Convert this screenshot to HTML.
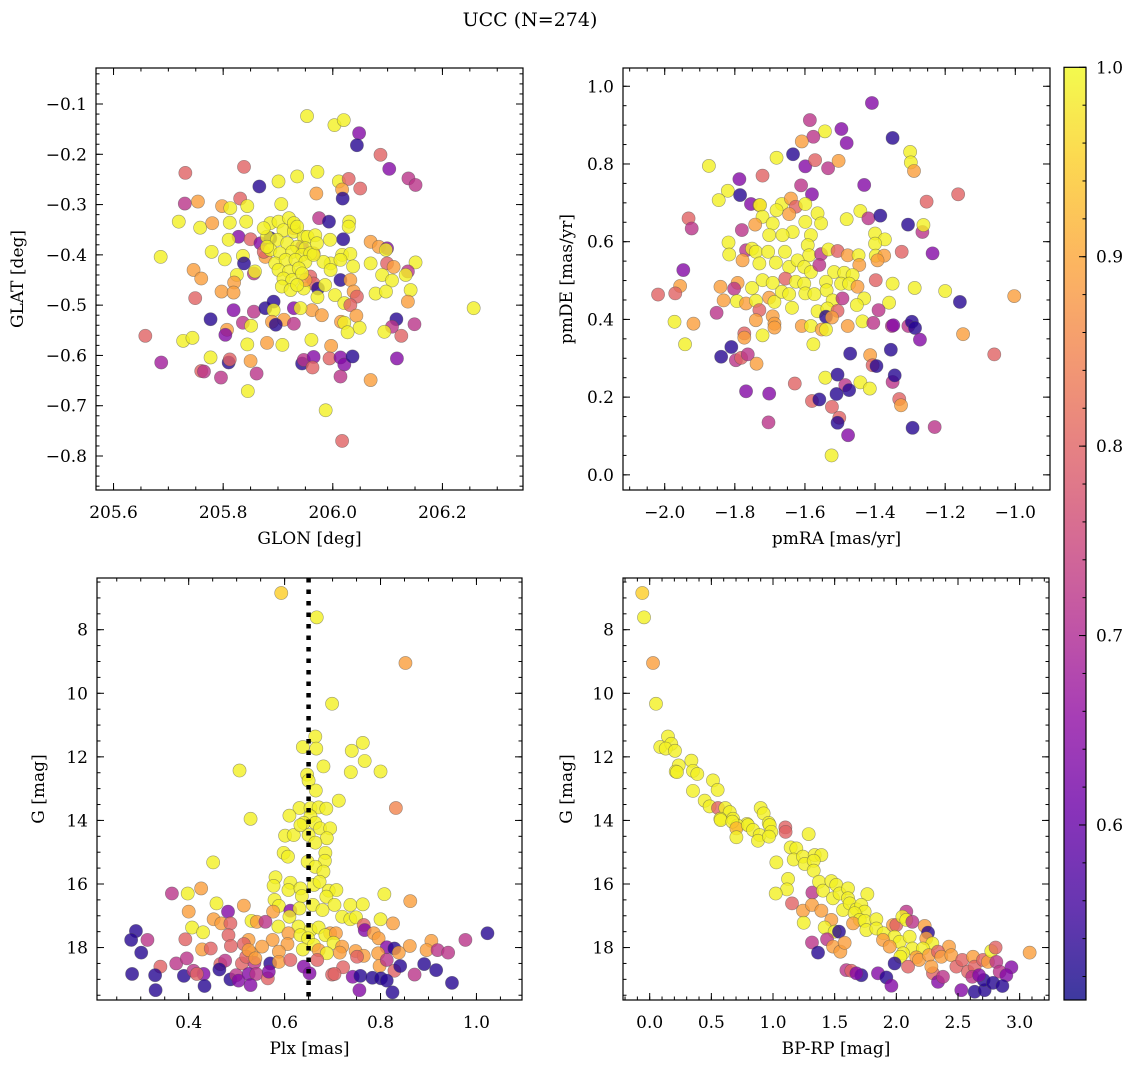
<!DOCTYPE html>
<html><head><meta charset="utf-8"><title>UCC (N=274)</title>
<style>
html,body{margin:0;padding:0;background:#fff;}
svg{display:block;font-family:"DejaVu Serif","Liberation Serif",serif;}
</style></head>
<body>
<svg id="fig" width="1136" height="1067" viewBox="0 0 1136 1067" xmlns="http://www.w3.org/2000/svg">
<rect x="0" y="0" width="1136" height="1067" fill="#fff"/>
<text x="530" y="26" font-size="19" text-anchor="middle">UCC (N=274)</text>
</svg>
<script>
// ---------- Panel 1: GLON / GLAT ----------
const p1Lon = [205.953,206.003,206.020,206.048,206.044,206.087,206.103,206.138,206.151,205.731,
205.838,205.866,205.901,205.935,205.972,206.011,206.029,206.050,206.017,205.970,
206.018,205.730,205.754,205.831,205.798,205.813,205.844,205.906,205.719,205.758,
205.780,205.812,205.842,205.828,205.810,205.850,205.868,205.975,205.993,206.030,
206.029,206.019,205.995,206.069,206.084,206.099,206.097,205.686,205.779,205.803,
205.836,205.838,205.877,205.746,205.760,205.825,205.856,205.858,205.820,205.797,
205.819,205.749,206.069,206.099,206.111,206.151,206.137,206.133,206.090,206.108,
206.142,206.078,206.097,206.137,206.257,205.996,206.017,206.032,206.037,206.014,
206.032,206.038,206.044,206.004,206.021,206.032,205.959,205.965,205.973,205.947,
205.972,205.986,205.962,205.980,205.777,205.819,205.856,205.877,205.892,205.892,
205.929,205.941,205.889,205.911,205.896,205.929,205.658,205.727,205.744,205.807,
205.804,205.836,205.851,205.844,205.880,205.908,205.961,205.997,206.015,206.021,
206.043,206.049,206.027,206.116,206.108,206.094,206.125,206.149,205.687,205.777,
205.810,205.812,205.760,205.765,205.796,205.850,205.861,205.845,205.944,205.947,
205.965,205.963,205.994,206.014,206.021,206.036,206.014,206.069,206.117,205.987,
206.017,205.929,205.874,205.944,205.965,205.886,205.950,
205.886,205.901,205.920,205.910,205.929,205.947,205.954,205.968,205.880,205.898,
205.917,205.935,205.950,205.886,205.904,205.926,205.944,205.959,205.895,205.914,
205.932,205.950,205.901,205.920,205.938,205.910,205.926,205.944,205.907,205.923,
205.935,205.983,205.996,206.014,205.965,205.880,205.929,205.874,205.935,205.971];
const p1Lat = [-0.124,-0.142,-0.132,-0.158,-0.182,-0.201,-0.229,-0.248,-0.261,-0.237,
-0.225,-0.264,-0.254,-0.244,-0.235,-0.254,-0.249,-0.268,-0.270,-0.278,
-0.288,-0.298,-0.294,-0.288,-0.303,-0.307,-0.303,-0.299,-0.334,-0.346,
-0.337,-0.336,-0.334,-0.364,-0.370,-0.369,-0.377,-0.327,-0.334,-0.334,
-0.344,-0.369,-0.370,-0.374,-0.384,-0.387,-0.390,-0.404,-0.394,-0.409,
-0.402,-0.417,-0.404,-0.430,-0.447,-0.440,-0.437,-0.433,-0.455,-0.473,
-0.475,-0.486,-0.417,-0.417,-0.424,-0.415,-0.433,-0.440,-0.440,-0.451,
-0.470,-0.477,-0.473,-0.493,-0.506,-0.417,-0.400,-0.398,-0.423,-0.450,
-0.450,-0.473,-0.483,-0.480,-0.496,-0.500,-0.443,-0.457,-0.467,-0.467,
-0.484,-0.460,-0.510,-0.520,-0.528,-0.510,-0.513,-0.506,-0.493,-0.510,
-0.506,-0.506,-0.533,-0.529,-0.539,-0.537,-0.561,-0.571,-0.565,-0.549,
-0.559,-0.535,-0.541,-0.578,-0.575,-0.579,-0.569,-0.581,-0.533,-0.535,
-0.521,-0.545,-0.554,-0.528,-0.543,-0.553,-0.561,-0.538,-0.614,-0.604,
-0.614,-0.608,-0.631,-0.632,-0.644,-0.611,-0.636,-0.671,-0.616,-0.609,
-0.603,-0.624,-0.606,-0.604,-0.618,-0.602,-0.642,-0.649,-0.606,-0.709,
-0.770,-0.347,-0.394,-0.384,-0.397,-0.367,-0.450,
-0.337,-0.334,-0.327,-0.351,-0.354,-0.364,-0.364,-0.361,-0.364,-0.370,
-0.377,-0.384,-0.387,-0.390,-0.397,-0.394,-0.400,-0.397,-0.417,-0.410,
-0.410,-0.414,-0.430,-0.433,-0.427,-0.447,-0.450,-0.437,-0.463,-0.470,
-0.460,-0.414,-0.430,-0.410,-0.400,-0.384,-0.337,-0.347,-0.344,-0.377];
const p1Val = [.99,.99,.99,.64,.53,.80,.64,.72,.72,.80,
.80,.53,.99,.99,.99,.99,.80,.80,.89,.89,
.53,.72,.89,.80,.89,.99,.99,.99,.99,.99,
.89,.99,.99,.64,.99,.80,.64,.72,.53,.99,
.99,.53,.99,.89,.89,.64,.99,.99,.99,.99,
.99,.53,.89,.89,.89,.99,.72,.99,.89,.89,
.89,.80,.99,.80,.89,.99,.72,.99,.99,.99,
.99,.99,.99,.89,.99,.99,.99,.99,.99,.53,
.89,.89,.80,.99,.99,.80,.80,.80,.53,.99,
.99,.99,.89,.89,.53,.64,.72,.53,.53,.99,
.64,.99,.89,.89,.53,.72,.80,.99,.99,.89,
.64,.72,.99,.99,.89,.99,.99,.89,.89,.99,
.89,.99,.99,.53,.72,.99,.80,.72,.68,.99,
.53,.80,.80,.72,.72,.89,.72,.99,.53,.72,
.64,.80,.80,.64,.64,.53,.72,.89,.64,.99,
.80,.89,.80,.64,.89,.53,.89,
.99,.99,.99,.99,.99,.99,.99,.99,.99,.99,
.99,.99,.99,.99,.99,.99,.99,.99,.99,.99,
.99,.99,.99,.99,.99,.99,.99,.99,.99,.99,
.99,.99,.99,.99,.99,.99,.99,.99,.99,.99];

// ---------- Panel 2: pmRA / pmDE ----------
const p2PmRA = [-1.409,-1.586,-1.543,-1.496,-1.576,-1.609,-1.481,-1.350,-1.300,-1.298,
-1.289,-1.681,-1.634,-1.599,-1.571,-1.534,-1.504,-1.874,-1.787,-1.721,
-1.611,-1.431,-1.163,-1.253,-1.820,-1.846,-1.785,-1.754,-1.580,-1.730,
-1.728,-1.666,-1.640,-1.626,-1.599,-1.681,-1.645,-1.564,-1.721,-1.932,
-1.923,-1.481,-1.442,-1.419,-1.385,-1.306,-1.265,-1.262,-1.780,-1.742,
-1.692,-1.635,-1.599,-1.554,-1.702,-1.664,-1.583,-1.400,-1.372,-1.400,
-1.818,-1.816,-1.768,-1.751,-1.740,-1.778,-1.730,-1.705,-1.657,-1.592,
-1.588,-1.554,-1.533,-1.507,-1.478,-1.447,-1.445,-1.398,-1.374,-1.393,
-1.324,-1.236,-1.683,-1.645,-1.621,-1.602,-1.583,-1.559,-1.517,-1.488,
-1.464,-1.947,-1.956,-1.970,-2.019,-1.841,-1.792,-1.802,-1.751,-1.721,
-1.692,-1.656,-1.626,-1.602,-1.540,-1.497,-1.474,-1.450,-1.398,-1.350,
-1.287,-1.200,-1.003,-1.158,-1.832,-1.794,-1.768,-1.740,-1.702,-1.687,
-1.666,-1.645,-1.599,-1.573,-1.538,-1.521,-1.493,-1.431,-1.452,-1.360,
-1.637,-1.564,-1.536,-1.507,-1.540,-1.523,-1.390,-1.730,-1.852,-1.972,
-1.918,-1.740,-1.692,-1.687,-1.687,-1.609,-1.583,-1.552,-1.540,-1.478,
-1.436,-1.405,-1.352,-1.348,-1.305,-1.295,-1.286,-1.272,-1.149,-1.773,
-1.773,-1.721,-1.942,-1.576,-1.810,-1.839,-1.797,-1.782,-1.763,-1.738,
-1.471,-1.355,-1.414,-1.407,-1.396,-1.060,-1.542,-1.507,-1.629,-1.485,
-1.474,-1.442,-1.415,-1.350,-1.344,-1.768,-1.702,-1.580,-1.559,-1.510,
-1.523,-1.331,-1.326,-1.502,-1.507,-1.704,-1.477,-1.293,-1.230,-1.524];
const p2PmDE = [0.957,0.913,0.884,0.890,0.870,0.858,0.854,0.867,0.831,0.804,
0.782,0.816,0.825,0.794,0.810,0.789,0.808,0.795,0.761,0.770,
0.745,0.746,0.722,0.703,0.731,0.707,0.720,0.697,0.722,0.694,
0.694,0.697,0.711,0.690,0.697,0.681,0.671,0.673,0.664,0.660,
0.634,0.658,0.679,0.660,0.667,0.644,0.625,0.643,0.630,0.644,
0.647,0.625,0.651,0.647,0.617,0.617,0.617,0.621,0.606,0.595,
0.598,0.567,0.578,0.582,0.574,0.552,0.544,0.574,0.574,0.591,
0.565,0.568,0.580,0.576,0.565,0.565,0.540,0.564,0.564,0.552,
0.574,0.570,0.546,0.535,0.552,0.535,0.522,0.540,0.522,0.520,
0.514,0.527,0.486,0.467,0.464,0.484,0.494,0.479,0.481,0.501,
0.494,0.505,0.497,0.492,0.497,0.492,0.492,0.484,0.501,0.492,
0.481,0.473,0.460,0.445,0.449,0.447,0.441,0.448,0.456,0.445,
0.471,0.465,0.467,0.465,0.475,0.449,0.454,0.454,0.437,0.443,
0.430,0.421,0.428,0.422,0.407,0.405,0.424,0.424,0.417,0.394,
0.389,0.398,0.408,0.389,0.379,0.383,0.383,0.374,0.374,0.383,
0.395,0.391,0.383,0.385,0.383,0.394,0.378,0.348,0.362,0.364,
0.353,0.359,0.336,0.336,0.329,0.304,0.295,0.301,0.310,0.286,
0.312,0.322,0.308,0.282,0.280,0.310,0.250,0.258,0.235,0.231,
0.218,0.238,0.222,0.239,0.256,0.215,0.209,0.190,0.194,0.208,
0.175,0.195,0.179,0.147,0.134,0.135,0.102,0.121,0.123,0.050];
const p2Val = [.64,.72,.99,.64,.72,.89,.64,.53,.99,.99,
.89,.99,.53,.64,.80,.72,.89,.99,.64,.80,
.72,.64,.80,.80,.99,.99,.53,.64,.64,.89,
.99,.99,.89,.80,.99,.99,.89,.99,.99,.80,
.72,.99,.99,.72,.53,.53,.72,.99,.72,.89,
.99,.99,.99,.99,.99,.99,.99,.99,.99,.99,
.99,.99,.72,.99,.99,.89,.99,.99,.99,.99,
.99,.72,.99,.80,.89,.99,.89,.99,.89,.89,
.80,.64,.99,.99,.99,.99,.99,.72,.99,.99,
.99,.64,.89,.80,.80,.89,.89,.72,.99,.99,
.99,.80,.99,.99,.99,.99,.99,.89,.80,.99,
.99,.99,.89,.53,.89,.99,.89,.99,.89,.99,
.99,.99,.99,.99,.99,.99,.72,.99,.99,.99,
.99,.99,.99,.80,.53,.89,.72,.80,.72,.99,
.89,.89,.89,.89,.89,.89,.99,.89,.99,.89,
.99,.72,.72,.64,.72,.53,.53,.64,.89,.80,
.89,.99,.99,.99,.53,.53,.72,.80,.72,.89,
.53,.53,.89,.80,.53,.80,.99,.53,.80,.72,
.53,.99,.99,.72,.53,.64,.64,.80,.53,.53,
.80,.80,.89,.80,.53,.72,.64,.53,.72,.99];

// ---------- Panel 3: Plx / G ----------
const p3Plx = [0.593,0.667,0.852,0.699,0.664,0.638,0.666,0.763,0.740,0.767,
0.681,0.506,0.738,0.800,0.647,0.650,0.665,0.713,0.832,0.631,
0.654,0.671,0.687,0.610,0.529,0.654,0.640,0.664,
0.650,0.601,0.619,0.633,0.674,0.695,0.688,0.664,0.598,0.607,
0.685,0.684,0.648,0.451,0.664,0.681,0.581,0.577,0.612,0.608,
0.633,0.636,0.661,0.673,0.692,0.708,0.687,0.704,0.808,0.862,
0.365,0.398,0.426,0.458,0.515,0.579,0.588,0.576,0.612,0.631,
0.659,0.679,0.737,0.763,0.610,0.720,0.737,0.749,0.800,0.400,
0.482,0.452,0.468,0.487,0.531,0.542,0.560,0.587,0.629,0.654,
0.671,0.695,0.765,0.767,0.826,0.407,0.430,0.483,0.608,0.633,
0.649,0.685,0.707,0.786,0.796,0.290,0.280,0.314,0.393,0.488,
0.525,0.575,0.606,0.638,0.661,0.702,0.720,0.977,1.023,0.906,
0.861,0.813,0.829,0.301,0.428,0.446,0.515,0.531,0.553,0.588,
0.671,0.688,0.715,0.748,0.765,0.795,0.838,0.896,0.919,0.941,
0.341,0.374,0.396,0.466,0.476,0.511,0.537,0.570,0.588,0.612,
0.640,0.668,0.722,0.751,0.798,0.813,0.829,0.841,0.891,0.916,
0.282,0.330,0.390,0.410,0.431,0.417,0.464,0.487,0.499,0.504,
0.525,0.541,0.565,0.567,0.652,0.699,0.704,0.742,0.758,0.783,
0.801,0.813,0.871,0.331,0.433,0.529,0.756,0.825,0.949,0.520,
0.525,0.539];
const p3G = [6.845,7.611,9.048,10.33,11.36,11.69,11.74,11.56,11.81,12.13,
12.30,12.43,12.48,12.46,12.56,12.75,13.06,13.38,13.61,13.61,
13.61,13.59,13.63,13.85,13.95,13.87,14.08,14.08,
14.46,14.48,14.46,14.15,14.25,14.25,14.56,14.70,15.02,15.14,
15.02,15.27,15.30,15.32,15.46,15.61,15.79,16.06,15.96,16.19,
16.14,16.38,16.03,15.93,16.21,16.19,16.40,16.66,16.32,16.54,
16.30,16.30,16.14,16.61,16.68,16.50,16.69,16.87,16.84,16.77,
16.66,16.82,16.66,16.64,17.03,17.03,17.11,17.05,17.11,16.87,
16.87,17.11,17.24,17.24,17.16,17.19,17.19,17.34,17.34,17.45,
17.37,17.55,17.29,17.45,17.24,17.37,17.52,17.61,17.55,17.61,
17.71,17.61,17.55,17.55,17.71,17.48,17.76,17.76,17.74,17.95,
17.76,17.76,17.89,18.06,17.92,17.85,17.97,17.76,17.55,17.79,
17.95,17.99,18.03,18.16,18.06,18.03,17.89,18.18,17.97,18.13,
18.08,18.18,18.16,18.11,18.26,18.18,18.16,18.08,18.08,18.16,
18.60,18.50,18.34,18.52,18.41,18.50,18.48,18.50,18.45,18.39,
18.60,18.39,18.62,18.29,18.58,18.39,18.73,18.58,18.52,18.71,
18.83,18.87,18.89,18.73,18.83,18.83,18.69,19.00,18.87,19.04,
18.83,18.83,18.97,18.76,18.81,18.85,18.83,18.92,18.89,18.95,
18.97,19.04,18.85,19.34,19.21,19.18,19.34,19.41,19.11,18.29,
18.08,18.34];
const p3Val = [.95,.99,.89,.99,.99,.99,.99,.99,.99,.99,
.99,.99,.99,.99,.99,.99,.99,.99,.85,.99,
.99,.99,.99,.99,.99,.99,.99,.99,
.99,.99,.99,.99,.99,.99,.99,.99,.99,.99,
.99,.99,.99,.99,.99,.99,.99,.99,.99,.99,
.99,.99,.99,.99,.99,.99,.99,.99,.99,.89,
.72,.99,.89,.99,.89,.99,.99,.89,.64,.99,
.99,.99,.99,.99,.99,.99,.99,.99,.99,.89,
.64,.89,.89,.80,.99,.89,.72,.99,.99,.99,
.99,.89,.80,.64,.89,.99,.99,.80,.89,.99,
.99,.99,.89,.89,.89,.53,.53,.72,.80,.80,
.89,.89,.89,.99,.99,.99,.89,.72,.53,.89,
.89,.64,.53,.53,.89,.80,.80,.89,.89,.89,
.89,.99,.89,.89,.89,.89,.89,.89,.72,.72,
.80,.72,.72,.80,.72,.80,.72,.53,.89,.80,
.64,.80,.80,.80,.89,.72,.80,.53,.53,.53,
.53,.53,.53,.72,.64,.80,.53,.53,.72,.64,
.64,.72,.80,.64,.64,.80,.80,.64,.53,.53,
.53,.53,.72,.53,.53,.64,.64,.53,.53,.80,
.89,.89];

// ---------- Panel 4: BP-RP / G ----------
const p4BpRp = [-0.060,-0.046,0.027,0.051,0.148,0.086,0.175,0.130,0.205,0.338,
0.235,0.211,0.221,0.351,0.386,0.513,0.551,0.351,0.446,0.486,
0.554,0.613,0.649,0.573,0.676,0.900,0.924,0.965,0.789,1.100,
0.711,
0.576,0.670,0.703,0.703,0.797,0.838,0.892,0.878,0.973,0.986,
0.967,1.102,1.289,1.143,1.189,1.168,1.243,1.257,1.338,1.392,
1.330,1.330,1.027,1.122,1.113,1.022,1.154,1.319,1.373,1.405,
1.473,1.513,1.486,1.540,1.608,1.608,1.765,1.243,1.316,1.392,
1.249,1.473,1.419,1.500,1.535,1.568,1.622,1.676,1.716,1.743,
1.662,1.703,1.649,1.743,1.838,1.757,1.838,1.897,1.973,2.000,
1.986,2.027,1.892,1.946,2.081,2.049,2.081,2.130,2.108,2.130,
2.230,2.257,2.243,2.292,2.216,2.162,2.054,2.033,1.986,2.095,
2.184,2.265,2.427,2.338,2.365,2.446,2.297,2.338,2.378,2.487,
2.535,2.622,2.581,2.635,2.616,2.703,2.743,2.770,2.805,2.811,
2.838,2.933,2.892,3.081,2.527,2.635,2.716,2.708,2.784,2.860,
2.671,1.438,1.487,1.546,1.581,1.316,1.365,1.595,1.635,1.716,
1.676,1.851,1.919,1.960,2.284];
const p4G = [6.845,7.611,9.048,10.33,11.36,11.69,11.59,11.74,11.81,12.12,
12.27,12.46,12.48,12.44,12.54,12.74,13.04,13.07,13.38,13.56,
13.61,13.61,13.74,13.95,13.95,13.61,13.78,14.08,14.11,14.22,
14.16,
13.99,14.04,14.25,14.53,14.15,14.30,14.46,14.64,14.15,14.36,
14.51,14.36,14.43,14.85,14.88,15.23,15.14,15.37,15.09,15.09,
15.27,15.58,15.32,15.84,16.17,16.30,16.61,16.27,15.93,16.21,
15.91,16.03,16.45,16.30,16.14,16.45,16.32,16.84,16.66,16.84,
17.22,17.13,17.37,17.50,17.50,16.82,16.61,16.80,16.66,16.87,
16.92,17.13,17.24,17.16,17.11,17.45,17.40,17.55,17.29,17.29,
17.66,17.82,17.76,17.97,16.87,17.03,17.13,17.19,17.66,18.03,
17.32,17.53,17.71,17.87,18.03,18.31,18.18,18.29,18.50,18.60,
18.39,18.24,17.97,18.13,18.29,18.24,18.81,19.08,18.92,18.60,
18.39,18.29,18.76,18.60,18.92,18.39,18.45,18.11,18.00,18.45,
18.76,18.62,18.87,18.16,19.34,19.39,19.34,19.02,19.11,19.21,
18.87,17.74,17.97,18.13,17.85,17.84,18.16,18.71,18.73,18.87,
18.81,18.81,18.94,19.20,18.60];
const p4Val = [.95,.99,.89,.99,.99,.99,.99,.99,.99,.99,
.99,.99,.99,.99,.99,.99,.99,.99,.99,.99,
.80,.99,.99,.99,.99,.99,.99,.99,.99,.80,
.99,
.99,.99,.92,.99,.99,.99,.99,.99,.99,.99,
.99,.80,.99,.99,.99,.99,.99,.99,.99,.99,
.99,.99,.99,.99,.99,.99,.80,.72,.99,.99,
.99,.99,.99,.99,.99,.99,.99,.89,.89,.89,
.99,.89,.99,.99,.53,.99,.99,.99,.99,.99,
.99,.99,.89,.99,.99,.99,.99,.99,.89,.80,
.99,.99,.89,.89,.72,.99,.99,.72,.99,.99,
.89,.53,.89,.99,.99,.89,.99,.99,.53,.80,
.89,.89,.89,.80,.89,.89,.80,.64,.72,.80,
.80,.89,.80,.80,.72,.80,.89,.99,.80,.72,
.72,.64,.64,.89,.64,.53,.53,.53,.53,.53,
.64,.72,.89,.89,.89,.72,.53,.72,.80,.53,
.64,.64,.53,.64,.89];

// ---------- Colorbar ----------
const cbTicks = [0.6,0.7,0.8,0.9,1.0];
const cbRange = [0.5076, 1.0];

const SVGNS = "http://www.w3.org/2000/svg";
const svg = document.getElementById('fig');
const plasmaStops = ["#0d0887","#41049d","#6a00a8","#8f0da4","#b12a90","#cc4778","#e16462","#f2844b","#fca636","#fcce25","#f0f921"];
function hex(h){return [parseInt(h.slice(1,3),16),parseInt(h.slice(3,5),16),parseInt(h.slice(5,7),16)];}
function plasma(t){
  t=Math.max(0,Math.min(1,t));
  const f=t*10, i=Math.min(9,Math.floor(f)), r=f-i;
  const a=hex(plasmaStops[i]), b=hex(plasmaStops[i+1]);
  return 'rgb('+a.map((v,k)=>Math.round(v+(b[k]-v)*r)).join(',')+')';
}
function colorOf(v){return plasma((v-cbRange[0])/(cbRange[1]-cbRange[0]));}
function el(tag, attrs, parent){
  const e=document.createElementNS(SVGNS,tag);
  for(const k in attrs) e.setAttribute(k,attrs[k]);
  (parent||svg).appendChild(e);
  return e;
}
function fmt(v,d){const s=Math.abs(v).toFixed(d);return (v<-1e-9?'\u2212':'')+s;}
const FS=17;

function drawPanel(o){
  const g=el('g',{});
  
  
  const L=o.box[0],T=o.box[1],R=o.box[2],B=o.box[3];
  const sx=v=>L+(v-o.xr[0])/(o.xr[1]-o.xr[0])*(R-L);
  const sy=o.inv ? (v=>T+(v-o.yr[0])/(o.yr[1]-o.yr[0])*(B-T)) : (v=>B-(v-o.yr[0])/(o.yr[1]-o.yr[0])*(B-T));
  const pg=el('g',{},g);
  
  
  for(let i=0;i<o.xs.length;i++){
    const c=el('circle',{cx:sx(o.xs[i]).toFixed(2),cy:sy(o.ys[i]).toFixed(2),r:6.6,fill:colorOf(o.cs[i]),'fill-opacity':0.8,stroke:'#505050','stroke-opacity':0.55,'stroke-width':0.6},pg);
    
    
  }
  if(o.vline!==undefined){
    const vl=el('line',{x1:sx(o.vline),x2:sx(o.vline),y1:T,y2:B,stroke:'#000','stroke-width':4.5,'stroke-dasharray':'4.5 7'},g);
    
    
  }
  const tk=el('g',{stroke:'#000','stroke-width':1},g);
  
  
  const inX=v=>v>=Math.min(...o.xr)-1e-9&&v<=Math.max(...o.xr)+1e-9;
  const inY=v=>v>=Math.min(...o.yr)-1e-9&&v<=Math.max(...o.yr)+1e-9;
  const step=(a,b,s)=>{const r=[];const n0=Math.ceil(Math.min(a,b)/s-1e-6),n1=Math.floor(Math.max(a,b)/s+1e-6);for(let n=n0;n<=n1;n++)r.push(n*s);return r;};
  step(o.xr[0],o.xr[1],o.xminor).forEach(v=>{const x=sx(v);el('line',{x1:x,x2:x,y1:B,y2:B-3.5},tk);el('line',{x1:x,x2:x,y1:T,y2:T+3.5},tk);});
  step(o.yr[0],o.yr[1],o.yminor).forEach(v=>{const y=sy(v);el('line',{x1:L,x2:L+3.5,y1:y,y2:y},tk);el('line',{x1:R,x2:R-3.5,y1:y,y2:y},tk);});
  o.xticks.forEach(v=>{if(!inX(v))return;const x=sx(v);el('line',{x1:x,x2:x,y1:B,y2:B-7},tk);el('line',{x1:x,x2:x,y1:T,y2:T+7},tk);
    const t=el('text',{x:x,y:B+28,'font-size':FS,'text-anchor':'middle'},g);t.textContent=fmt(v,o.xd);
    
    });
  o.yticks.forEach(v=>{if(!inY(v))return;const y=sy(v);el('line',{x1:L,x2:L+7,y1:y,y2:y},tk);el('line',{x1:R,x2:R-7,y1:y,y2:y},tk);
    const t=el('text',{x:L-9,y:y+6,'font-size':FS,'text-anchor':'end'},g);t.textContent=fmt(v,o.yd);
    
    });
  const fr=el('rect',{x:L,y:T,width:R-L,height:B-T,fill:'none',stroke:'#000','stroke-width':1.2},g);
  
  
  const xt=el('text',{x:(L+R)/2,y:B+54,'font-size':FS,'text-anchor':'middle'},g);xt.textContent=o.xlabel;
  
  
  const yt=el('text',{x:0,y:0,'font-size':FS,'text-anchor':'middle',transform:'translate('+o.ylx+','+((T+B)/2)+') rotate(-90)'},g);yt.textContent=o.ylabel;
  
  
}

drawPanel({name:'glon-glat-panel',box:[96,68,523,490],xr:[205.568,206.347],yr:[-0.8676,-0.0284],xs:p1Lon,ys:p1Lat,cs:p1Val,
  xticks:[205.6,205.8,206.0,206.2],xminor:0.05,yticks:[-0.8,-0.7,-0.6,-0.5,-0.4,-0.3,-0.2,-0.1],yminor:0.02,xd:1,yd:1,
  xlabel:'GLON [deg]',ylabel:'GLAT [deg]',ylx:23});
drawPanel({name:'pm-panel',box:[623,68,1050,490],xr:[-2.119,-0.901],yr:[-0.039,1.047],xs:p2PmRA,ys:p2PmDE,cs:p2Val,
  xticks:[-2.0,-1.8,-1.6,-1.4,-1.2,-1.0],xminor:0.05,yticks:[0.0,0.2,0.4,0.6,0.8,1.0],yminor:0.05,xd:1,yd:1,
  xlabel:'pmRA [mas/yr]',ylabel:'pmDE [mas/yr]',ylx:572});
drawPanel({name:'plx-g-panel',box:[97,578,522,1000],xr:[0.2088,1.095],yr:[6.373,19.65],inv:true,xs:p3Plx,ys:p3G,cs:p3Val,
  xticks:[0.4,0.6,0.8,1.0],xminor:0.05,yticks:[8,10,12,14,16,18],yminor:0.5,xd:1,yd:0,vline:0.65,
  xlabel:'Plx [mas]',ylabel:'G [mag]',ylx:44});
drawPanel({name:'cmd-panel',box:[623,578,1049,1000],xr:[-0.2165,3.238],yr:[6.373,19.65],inv:true,xs:p4BpRp,ys:p4G,cs:p4Val,
  xticks:[0.0,0.5,1.0,1.5,2.0,2.5,3.0],xminor:0.1,yticks:[8,10,12,14,16,18],yminor:0.5,xd:1,yd:0,
  xlabel:'BP-RP [mag]',ylabel:'G [mag]',ylx:572});

// colorbar
(function(){
  const L=1064,R=1086,T=67.3,B=1000;
  const g=el('g',{});
  
  
  const defs=el('defs',{},g);
  const lg=el('linearGradient',{id:'cbgrad',x1:0,y1:1,x2:0,y2:0},defs);
  for(let i=0;i<=40;i++){
    const v=cbRange[0]+i/40*(cbRange[1]-cbRange[0]);
    el('stop',{offset:(i/40).toFixed(3),'stop-color':colorOf(v),'stop-opacity':0.8},lg);
  }
  const bar=el('rect',{x:L,y:T,width:R-L,height:B-T,fill:'url(#cbgrad)'},g);
  
  
  const sy=v=>B-(v-cbRange[0])/(cbRange[1]-cbRange[0])*(B-T);
  for(let k=Math.ceil(cbRange[0]/0.02);k*0.02<=cbRange[1]+1e-9;k++){
    const y=sy(k*0.02);el('line',{x1:R,x2:R-3.5,y1:y,y2:y,stroke:'#000','stroke-width':1},g);
  }
  cbTicks.forEach(v=>{const y=sy(v);el('line',{x1:R,x2:R-7,y1:y,y2:y,stroke:'#000','stroke-width':1},g);
    const t=el('text',{x:R+10,y:y+6,'font-size':FS},g);t.textContent=v.toFixed(1);
    
    });
  el('rect',{x:L,y:T,width:R-L,height:B-T,fill:'none',stroke:'#000','stroke-width':1.2},g);
})();
</script>
</body></html>
